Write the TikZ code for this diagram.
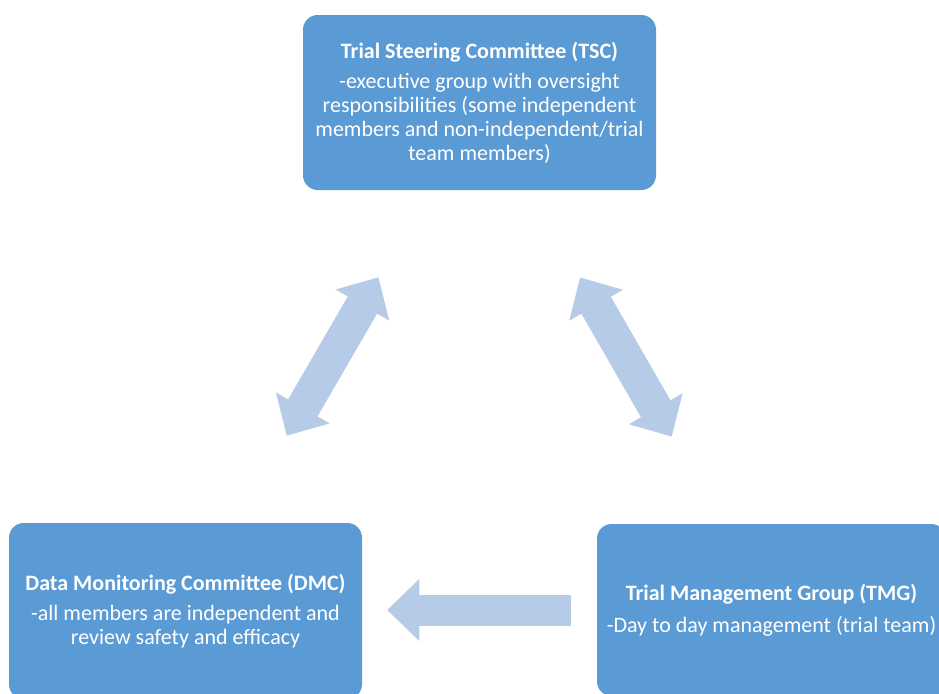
\documentclass[tikz,border=0pt]{standalone}
\usepackage{fontspec}
\setmainfont{Carlito}
\usetikzlibrary{arrows.meta}
\definecolor{boxblue}{RGB}{91,155,213}
\definecolor{arrowblue}{RGB}{182,203,232}

\begin{document}
\begin{tikzpicture}[x=0.75pt,y=-0.75pt,
  group/.style={rectangle,rounded corners=11pt,fill=boxblue,text=white,align=center,
    inner sep=0pt,font=\fontsize{16.5}{18}\selectfont},
  link/.style={draw=arrowblue,line width=23.25pt,
    >={Triangle[width=46.5pt,length=24pt,line width=0pt]}}]
  \useasboundingbox (0,0) rectangle (939,693);
  \clip (0,0) rectangle (939,693);

  \node[group,minimum width=264.75pt,minimum height=131.25pt] (tsc) at (479.5,102.5)
    {\textbf{Trial Steering Committee (TSC)}\\[4.5pt]
     -executive group with oversight\\
     responsibilities (some independent\\
     members and non-independent/trial\\
     team members)};
  \node[group,minimum width=264.75pt,minimum height=132pt] (dmc) at (185.5,611)
    {\textbf{Data Monitoring Committee (DMC)}\\[5pt]
     -all members are independent and\\
     review safety and efficacy};
  \node[group,minimum width=261.75pt,minimum height=129pt] (tmg) at (771.5,610)
    {\textbf{Trial Management Group (TMG)}\\[6pt]
     -Day to day management (trial team)};

  % links between the groups
  \draw[link,line width=25.5pt,<->,shorten <=75.5pt,shorten >=75.5pt] (tsc) -- (dmc);
  \draw[link,line width=25.5pt,<->,shorten <=75.5pt,shorten >=75.5pt] (tsc) -- (tmg);
  \draw[link,->,shorten <=19.5pt,shorten >=18.75pt] (tmg.west) -- (dmc.east |- tmg.west);
\end{tikzpicture}
\end{document}
